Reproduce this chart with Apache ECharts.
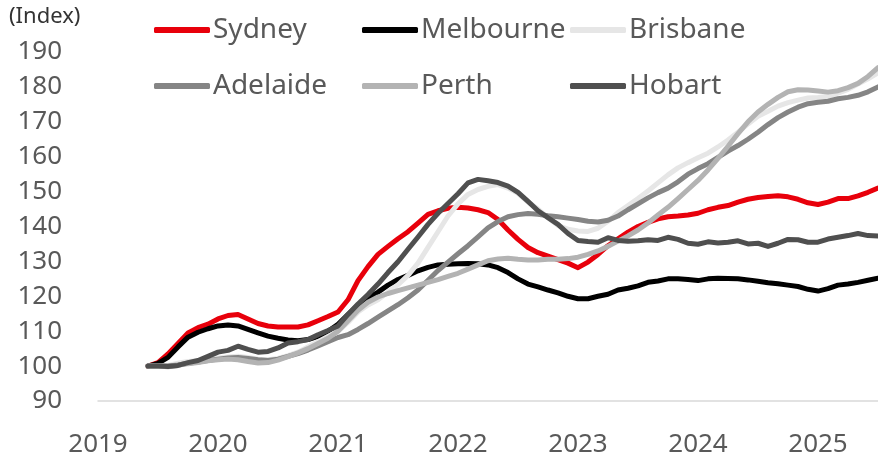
<!DOCTYPE html>
<html>
<head>
<meta charset="utf-8">
<script src="https://cdn.jsdelivr.net/npm/echarts@6/dist/echarts.min.js"></script>
<style>
  html, body { margin: 0; padding: 0; background: #fff; }
  #chart { width: 878px; height: 459px; }
</style>
</head>
<body>
<div id="chart"></div>
<script>
// monthly index, Jun 2019 = 100, last point Jul 2025
const startYear = 2019
const startMonth = 6

const sydney = [100, 101, 103.5, 106.5, 109.5, 111, 112, 113.5, 114.5, 114.8,
  113.5, 112.2, 111.5, 111.2, 111.2, 111.2, 111.8, 113, 114.2, 115.5,
  119, 124.5, 128.5, 132, 134.3, 136.5, 138.5, 141, 143.5, 144.5,
  145.2, 145.5, 145.3, 144.8, 144, 142, 139, 136.3, 134, 132.5,
  131.5, 130.5, 129.5, 128.2, 129.8, 132, 134.5, 136.5, 138.4, 140,
  141.2, 142.2, 142.8, 143, 143.3, 143.8, 144.8, 145.5, 146, 147,
  147.8, 148.3, 148.6, 148.8, 148.5, 147.8, 146.8, 146.3, 147, 148,
  148, 148.8, 149.8, 151]

const melbourne = [100, 100.8, 102.5, 105.5, 108.3, 109.7, 110.7, 111.5, 111.8, 111.5,
  110.5, 109.5, 108.6, 108, 107.5, 107.3, 107.6, 108.5, 110, 112,
  114.8, 117.5, 119.5, 121.2, 123.2, 124.8, 126, 127.3, 128.3, 129,
  129.2, 129.3, 129.4, 129.3, 129, 128.2, 126.8, 125, 123.5, 122.7,
  121.8, 121, 120, 119.3, 119.3, 120, 120.6, 121.8, 122.3, 123,
  124, 124.4, 125, 125, 124.8, 124.5, 125, 125.2, 125.1, 125,
  124.7, 124.3, 123.9, 123.6, 123.2, 122.8, 122, 121.5, 122.2, 123.2,
  123.5, 124, 124.6, 125.2]

const brisbane = [100, 100, 100.2, 100.8, 101.3, 101.5, 102, 102.3, 102.6, 102.8,
  102.5, 102, 101.8, 102.2, 103, 104, 105.5, 107, 108.5, 110,
  112.5, 115.5, 117.5, 119, 121.2, 123.3, 126, 129.5, 134, 138.5,
  143, 146.5, 149.2, 150.6, 151.5, 152, 151, 149.5, 147, 145,
  142.5, 140.3, 139.2, 138.7, 138.6, 139.5, 141.5, 144, 146, 148,
  150.2, 152.5, 154.8, 156.8, 158.3, 159.7, 161, 162.8, 164.8, 167,
  169.4, 171.6, 173, 174.5, 175.5, 176.2, 176.8, 177, 177.3, 178.2,
  179.3, 180.8, 182.3, 184]

const adelaide = [100, 100, 100, 100.3, 100.8, 101.2, 101.6, 102, 102.3, 102.5,
  102.2, 101.8, 101.6, 102, 102.8, 103.6, 104.6, 105.8, 107, 108.2,
  109, 110.5, 112.2, 114, 115.8, 117.6, 119.6, 121.8, 124.6, 127.4,
  129.8, 132.2, 134.5, 137, 139.6, 141.4, 142.8, 143.4, 143.7, 143.5,
  143.1, 142.8, 142.4, 142, 141.5, 141.3, 141.8, 143, 144.8, 146.5,
  148.2, 149.7, 151, 152.8, 155, 156.6, 158, 159.8, 161.6, 163.2,
  165, 167, 169.2, 171.2, 172.8, 174.2, 175.2, 175.6, 175.9, 176.6,
  177, 177.6, 178.6, 180]

const perth = [100, 100, 99.8, 100.2, 100.7, 101, 101.5, 101.8, 102, 101.8,
  101.3, 100.9, 101, 101.7, 102.7, 103.8, 105, 106.5, 108, 110,
  113, 116, 118.3, 119.8, 120.8, 121.6, 122.4, 123.2, 124, 124.8,
  125.7, 126.6, 127.8, 129, 130.2, 130.7, 130.9, 130.6, 130.4, 130.4,
  130.6, 130.6, 130.8, 131.2, 132, 133, 134.3, 135.8, 137.3, 139,
  141, 143.3, 145.5, 148, 150.6, 153.2, 156.2, 159.5, 163, 166.6,
  170, 172.8, 175, 177, 178.6, 179.2, 179.1, 178.8, 178.5, 178.9,
  179.8, 181, 183, 185.5]

const hobart = [100, 100, 99.9, 100.2, 101, 101.6, 102.8, 104, 104.5, 105.7,
  104.8, 104, 104.2, 105.2, 106.6, 107, 107.6, 109, 110.2, 111.5,
  114.8, 117.8, 120.5, 123.5, 126.8, 129.9, 133.5, 137, 140.6, 143.8,
  146.6, 149.4, 152.5, 153.5, 153.1, 152.6, 151.6, 149.8, 147.2, 144.5,
  142.5, 140.6, 138, 136, 135.7, 135.5, 136.8, 136, 135.8, 135.9,
  136.2, 136, 136.9, 136.3, 135.2, 134.9, 135.6, 135.3, 135.5, 135.9,
  135, 135.2, 134.3, 135.2, 136.3, 136.2, 135.5, 135.5, 136.4, 136.9,
  137.4, 138, 137.4, 137.3]

const cities = ['Sydney', 'Melbourne', 'Brisbane', 'Adelaide', 'Perth', 'Hobart']
const values = [sydney, melbourne, brisbane, adelaide, perth, hobart]
const colors = ['#e8000b', '#000000', '#e6e6e6', '#858585', '#b3b3b3', '#4f4f4f']

// month k -> decimal year (Jan = .0)
function toPairs(arr) {
  return arr.map((v, k) => [startYear + (startMonth - 1 + k) / 12, v])
}

const font = '"Noto Sans", sans-serif'
const textColor = '#595959'

// legend laid out as 3 columns x 2 rows
const legendPos = [[154, 16], [362, 16], [570, 16], [154, 72], [362, 72], [570, 72]]

let myChart = echarts.init(document.getElementById('chart'))
myChart.setOption({
  animation: false,
  graphic: [{
    type: 'text', left: 9, top: 6,
    style: { text: '(Index)', font: '22px ' + font, fill: '#333' }
  }],
  legend: cities.map((c, i) => ({
    data: [c],
    left: legendPos[i][0],
    top: legendPos[i][1],
    padding: 0,
    icon: 'roundRect',
    itemWidth: 56,
    itemHeight: 6,
    textStyle: { fontFamily: font, fontSize: 28, color: textColor, padding: [0, 0, 0, -2] }
  })),
  grid: { left: 98, right: 0, top: 52, bottom: 58, containLabel: false },
  xAxis: {
    type: 'value',
    min: 2019,
    max: 2025.5,
    interval: 1,
    axisLine: { show: true, onZero: false, lineStyle: { color: '#d9d9d9', width: 1.5 } },
    axisTick: { show: false },
    splitLine: { show: false },
    axisLabel: {
      margin: 31,
      fontFamily: font, fontSize: 26, color: textColor,
      showMaxLabel: false,
      formatter: v => (Number.isInteger(v) ? String(v) : '')
    }
  },
  yAxis: {
    type: 'value',
    min: 90,
    max: 190,
    interval: 10,
    axisLine: { show: false },
    axisTick: { show: false },
    splitLine: { show: false },
    axisLabel: { margin: 36, fontFamily: font, fontSize: 26, color: textColor, padding: [4, 0, 0, 0] }
  },
  series: cities.map((c, i) => ({
    name: c,
    type: 'line',
    data: toPairs(values[i]),
    showSymbol: false,
    symbol: 'none',
    color: colors[i],
    lineStyle: { width: 5, color: colors[i], cap: 'round', join: 'round' }
  }))
})
</script>
</body>
</html>
